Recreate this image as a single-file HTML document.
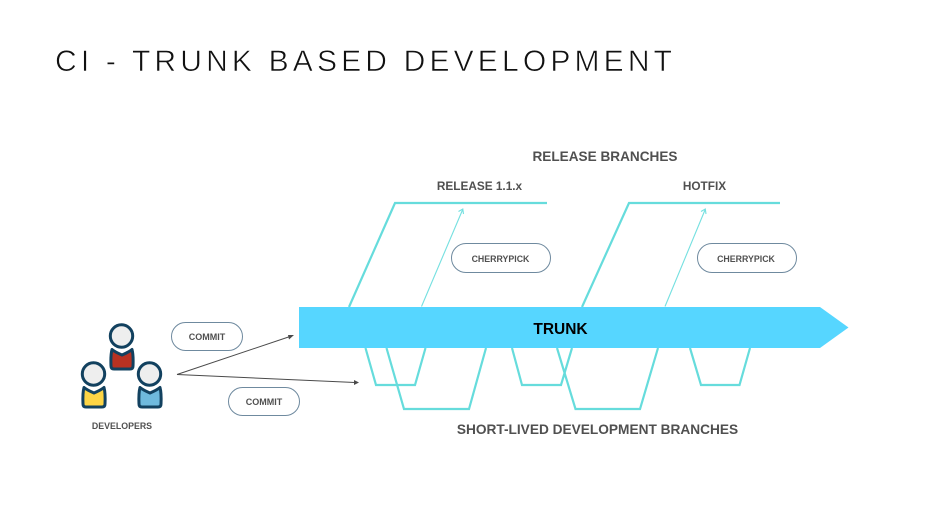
<!DOCTYPE html>
<html><head><meta charset="utf-8"><style>
html,body{margin:0;padding:0;background:#fff;width:935px;height:526px;overflow:hidden}
svg{display:block}
text{font-family:"Liberation Sans",sans-serif}
.b{font-weight:bold;fill:#505050;text-anchor:middle}
</style></head><body>
<svg width="935" height="526" viewBox="0 0 935 526" xmlns="http://www.w3.org/2000/svg">
<rect width="935" height="526" fill="#fff"/>
<text x="55" y="71" font-size="30" fill="#111" stroke="#fff" stroke-width="0.6" textLength="617">CI - TRUNK BASED DEVELOPMENT</text>

<g fill="none" stroke="#66dcdc" stroke-width="2.200">
<path d="M349 307L395 203H547"/>
<path d="M582 307L629 203H780"/>
<path d="M365.500 348L376 385H415L425.500 348"/>
<path d="M386.500 348L404 409H469L486 348"/>
<path d="M512 348L522 385H561L572 348"/>
<path d="M557 348L575.500 409H640L658 348"/>
<path d="M690 348L701 385H739.500L750 348"/>
</g>
<g fill="none" stroke="#74e0e0" stroke-width="1.100">
<path d="M421.500 306.500L462.500 210"/>
<path d="M458.500 211.500L462.800 209L463.500 214"/>
<path d="M665 306.500L705 210"/>
<path d="M701 211.500L705.300 209L706 214"/>
</g>

<path d="M299 307H820L848.500 327.500L820 348H299Z" fill="#56d6ff"/>

<g fill="none" stroke="#6f8a9f" stroke-width="1">
<rect x="451.500" y="243.500" width="99" height="29" rx="14.500"/>
<rect x="697.500" y="243.500" width="99" height="29" rx="14.500"/>
<rect x="171.500" y="322.500" width="71" height="28" rx="14"/>
<rect x="228.500" y="387.500" width="71" height="28" rx="14"/>
</g>

<g stroke="#4a4a4a" stroke-width="1" fill="none">
<path d="M177 374.500L290 336.500"/>
<path d="M177 374.500L355 382.500"/>
</g>
<path d="M294 335L289 339.500L288 335Z" fill="#4a4a4a"/>
<path d="M359 382.500L354 385L354 380Z" fill="#4a4a4a"/>

<g stroke="#12415f" stroke-width="3" stroke-linejoin="round">
<g>
<path d="M112 349.500Q115 352 122 355Q129 352 132 349.500Q133.500 355 133 366Q133 369 130 369H114Q111 369 111 366Q110.500 355 112 349.500Z" fill="#b83222"/>
<circle cx="121.500" cy="336" r="11.200" fill="#eeeeee"/>
</g>
<g>
<path d="M84 387.500Q87 390 94 393Q101 390 104 387.500Q105.500 393 105 404Q105 407 102 407H86Q83 407 83 404Q82.500 393 84 387.500Z" fill="#fdd545"/>
<circle cx="93.500" cy="374" r="11.200" fill="#eeeeee"/>
</g>
<g>
<path d="M140 387.500Q143 390 150 393Q157 390 160 387.500Q161.500 393 161 404Q161 407 158 407H142Q139 407 139 404Q138.500 393 140 387.500Z" fill="#6fbadd"/>
<circle cx="149.500" cy="374" r="11.200" fill="#eeeeee"/>
</g>
</g>

<text class="b" x="605" y="161" font-size="13.600">RELEASE BRANCHES</text>
<text class="b" x="479.500" y="190" font-size="11.800">RELEASE 1.1.x</text>
<text class="b" x="704.500" y="190" font-size="11.800">HOTFIX</text>
<text class="b" x="500.500" y="262" font-size="8.800">CHERRYPICK</text>
<text class="b" x="746" y="262" font-size="8.800">CHERRYPICK</text>
<text x="560.500" y="334" font-size="15.500" font-weight="bold" fill="#000" text-anchor="middle">TRUNK</text>
<text class="b" x="207" y="340" font-size="9">COMMIT</text>
<text class="b" x="264" y="405" font-size="9">COMMIT</text>
<text class="b" x="122" y="429" font-size="8.800">DEVELOPERS</text>
<text class="b" x="597.500" y="434" font-size="13.700">SHORT-LIVED DEVELOPMENT BRANCHES</text>
</svg>
</body></html>
